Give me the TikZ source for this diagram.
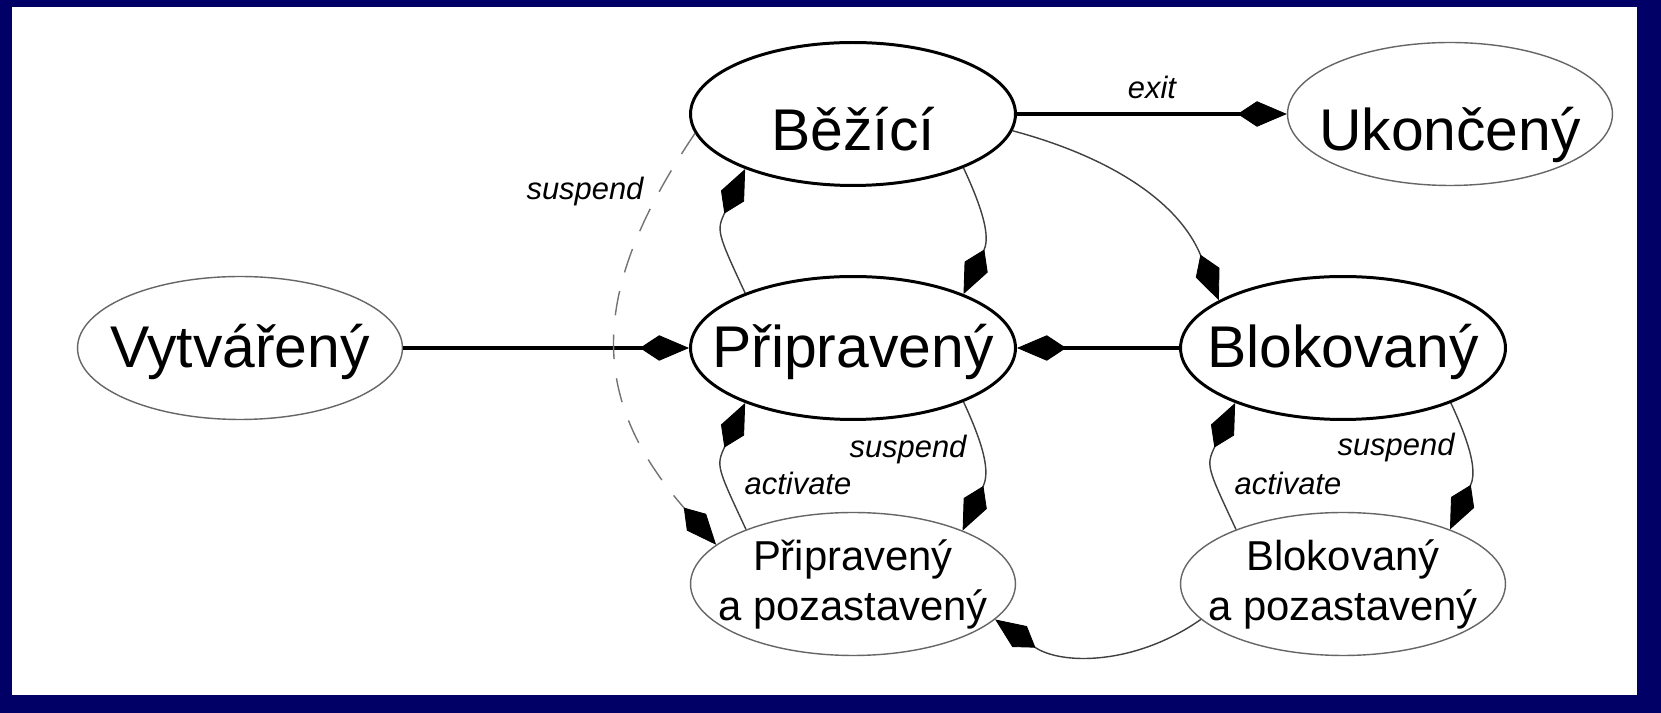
\documentclass[tikz,border=0pt]{standalone}
\usepackage{fontspec}
\setmainfont{Liberation Sans}
\usetikzlibrary{shapes.geometric, arrows.meta}
\definecolor{framenavy}{RGB}{0,0,102}

\begin{document}
\begin{tikzpicture}[x=0.02cm, y=0.02cm,
    state/.style={ellipse, draw=black!60, line width=0.8pt, minimum width=6.5cm, minimum height=2.86cm, inner sep=0pt, inner xsep=-0.8cm, font=\fontsize{33.5pt}{40pt}\selectfont},
    busy/.style={state, draw=black, line width=1.7pt},
    toprow/.style={text height=1.48cm, text depth=0pt},
    midrow/.style={text height=1.1cm, text depth=0.3cm},
    pair/.style={state, align=center, font=\fontsize{23.8pt}{28.45pt}\selectfont},
    >={Kite[length=28pt, width=14.5pt, inset=11pt, line width=0.5pt, color=black]},
    mainedge/.style={->, line width=2.2pt},
    sideedge/.style={->, draw=black!75, line width=0.8pt},
    suspedge/.style={sideedge, draw=black!55, dash pattern=on 14pt off 11pt},
    lbl/.style={font=\fontsize{17.6pt}{20pt}\selectfont\itshape, inner sep=0pt},
]
    % frame
    \fill[framenavy] (0,0) rectangle (1661,713);
    \fill[white] (12,18) rectangle (1637,706);
    \useasboundingbox (0,0) rectangle (1661,713);

    % states
    \node[busy, toprow] (bez) at (853,599) {Běžící};
    \node[state, toprow] (uk) at (1450,599) {Ukončený};
    \node[state, midrow] (vyt) at (240,365) {Vytvářený};
    \node[busy, midrow] (prip) at (853,365) {Připravený};
    \node[busy, midrow] (blok) at (1343,365) {Blokovaný};
    \node[pair] (pap) at (853,129) {Připravený\\a pozastavený};
    \node[pair] (bap) at (1343,129) {Blokovaný\\a pozastavený};

    % transitions
    \draw[mainedge] (vyt) -- (prip);
    \draw[mainedge] (blok) -- (prip);
    \draw[mainedge] (bez) -- (uk);
    \draw[sideedge] (prip.153) to[out=115, in=245, looseness=1.4] (bez.207);
    \draw[sideedge] (bez.334) to[out=-65, in=65, looseness=1.2] (prip.26);
    \draw[sideedge] (bez.354) to[out=-15, in=112] (blok.159);
    \draw[sideedge] (prip.334) to[out=-65, in=65, looseness=1.2] (pap.26);
    \draw[sideedge] (pap.153) to[out=115, in=245, looseness=1.4] (prip.207);
    \draw[sideedge] (blok.333) to[out=-65, in=65, looseness=1.2] (bap.27);
    \draw[sideedge] (bap.153) to[out=115, in=245, looseness=1.4] (blok.207);
    \draw[sideedge] (bap.194) to[out=215, in=-35] (pap.346);
    \draw[suspedge] (bez.187) to[out=236, in=131, looseness=1.2] (pap.164);

    % labels
    \node[lbl] (lexit) at (1152,626) {exit};
    \node[lbl] (lsusp) at (585,521) {suspend};
    \node[lbl] (lsuspp) at (908,263) {suspend};
    \node[lbl] (lactp) at (798,230) {activate};
    \node[lbl] (lsuspb) at (1396,265) {suspend};
    \node[lbl] (lactb) at (1288,230) {activate};
\end{tikzpicture}
\end{document}
